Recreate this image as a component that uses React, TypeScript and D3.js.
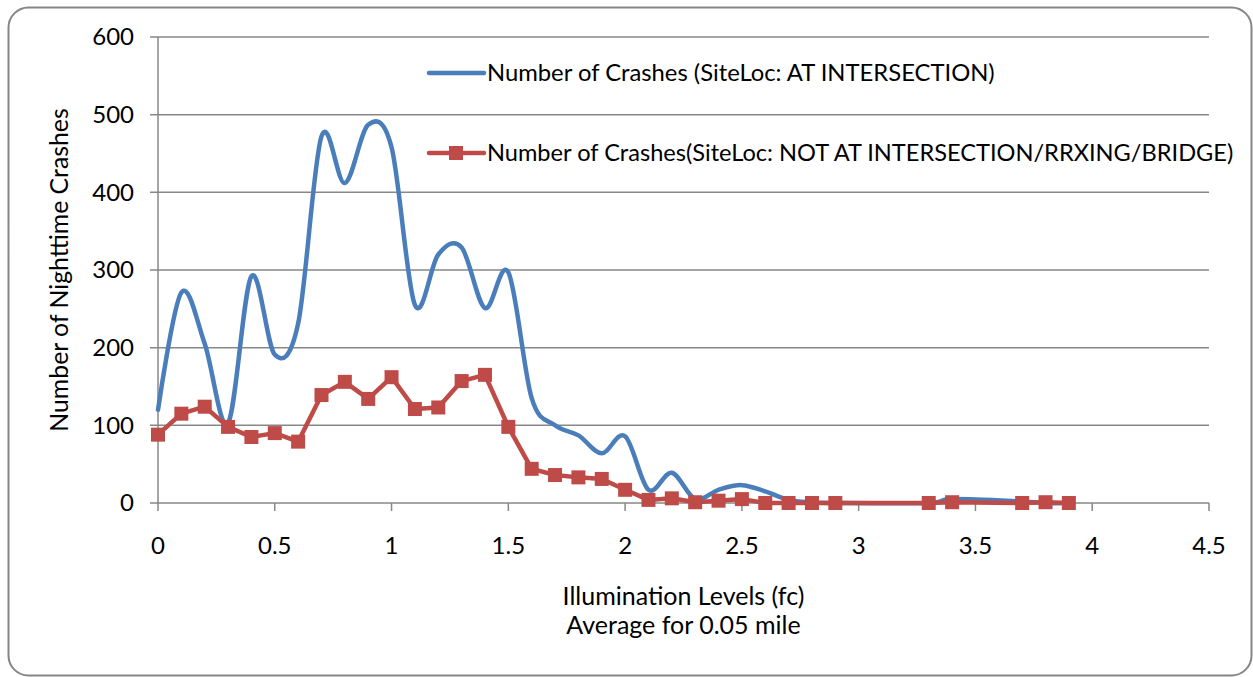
import React from "react";
import * as d3 from "d3";

const xValues = [0, 0.1, 0.2, 0.3, 0.4, 0.5, 0.6, 0.7, 0.8, 0.9, 1.0, 1.1, 1.2, 1.3, 1.4, 1.5, 1.6, 1.7, 1.8, 1.9, 2.0, 2.1, 2.2, 2.3, 2.4, 2.5, 2.6, 2.7, 2.8, 2.9, 3.3, 3.4, 3.7, 3.8, 3.9];
const atIntersection = [120, 271, 205, 103, 292, 191, 231, 472, 412, 487, 458, 255, 320, 329, 251, 297, 135, 100, 87, 64, 86, 17, 39, 5, 17, 23, 15, 4, 1, 0, 0, 5, 2, 0, 0];
const notAtIntersection = [88, 115, 124, 98, 85, 90, 79, 139, 156, 134, 162, 121, 123, 157, 165, 98, 44, 36, 33, 31, 17, 4, 6, 1, 3, 5, 0, 0, 0, 0, 0, 1, 0, 1, 0];
const xTicks = [0, 0.5, 1, 1.5, 2, 2.5, 3, 3.5, 4, 4.5];
const yTicks = [0, 100, 200, 300, 400, 500, 600];
const seriesNames = [
  "Number of Crashes (SiteLoc: AT INTERSECTION)",
  "Number of Crashes(SiteLoc: NOT AT INTERSECTION/RRXING/BRIDGE)",
];
const xTitle = ["Illumination Levels (fc)", "Average for 0.05 mile"];
const yTitle = "Number of Nighttime Crashes";

const W = 1253;
const H = 677;
const BLUE = "#4a7ebb";
const RED = "#be4b48";
const GRID = "#878787";
const FONT = "Lato, 'Open Sans', sans-serif";

export default function App() {
  const x = d3.scaleLinear().domain([0, 4.5]).range([158, 1209]);
  const y = d3.scaleLinear().domain([0, 600]).range([503, 37]);
  const blueLine = d3
    .line<number>()
    .x((_, i) => x(xValues[i]))
    .y((d) => y(d))
    .curve(d3.curveCardinal.tension(0));
  const redLine = d3
    .line<number>()
    .x((_, i) => x(xValues[i]))
    .y((d) => y(d));
  const fmt = (v: number) => String(v);
  return (
    <svg
      width={W}
      height={H}
      style={{ position: "absolute", left: 0, top: 0, display: "block" }}
      fontFamily={FONT}
    >
      <rect x={0} y={0} width={W} height={H} fill="#fff" />
      <rect x={8.5} y={7.5} width={1243} height={668} rx={20} ry={20} fill="#fff" stroke="#868686" strokeWidth={2} />
      {yTicks.map((t) => (
        <g key={"y" + t}>
          <line x1={150} x2={x(4.5)} y1={y(t)} y2={y(t)} stroke={GRID} strokeWidth={1.5} />
          <text x={134} y={y(t)} dy="0.35em" textAnchor="end" fontSize={24} fill="#000">
            {fmt(t)}
          </text>
        </g>
      ))}
      <line x1={x(0)} x2={x(0)} y1={y(600)} y2={y(0)} stroke={GRID} strokeWidth={1.5} />
      {xTicks.map((t) => (
        <g key={"x" + t}>
          <line x1={x(t)} x2={x(t)} y1={y(0)} y2={y(0) + 8} stroke={GRID} strokeWidth={1.5} />
          <text x={x(t)} y={554} textAnchor="middle" fontSize={24} fill="#000">
            {fmt(t)}
          </text>
        </g>
      ))}
      <path d={blueLine(atIntersection) || ""} fill="none" stroke={BLUE} strokeWidth={4.5} strokeLinejoin="round" strokeLinecap="round" />
      <path d={redLine(notAtIntersection) || ""} fill="none" stroke={RED} strokeWidth={4.5} strokeLinejoin="round" />
      {notAtIntersection.map((v, i) => (
        <rect key={"m" + i} x={x(xValues[i]) - 7} y={y(v) - 7} width={14} height={14} fill={RED} />
      ))}
      <line x1={429} x2={484} y1={73} y2={73} stroke={BLUE} strokeWidth={4.5} strokeLinecap="round" />
      <text x={487} y={81} fontSize={23.8} fill="#000">{seriesNames[0]}</text>
      <line x1={429} x2={484} y1={153} y2={153} stroke={RED} strokeWidth={4.5} strokeLinecap="round" />
      <rect x={449} y={146} width={14} height={14} fill={RED} />
      <text x={487} y={161} fontSize={23.6} fill="#000">{seriesNames[1]}</text>
      <text transform={`translate(68,${(y(0) + y(600)) / 2}) rotate(-90)`} textAnchor="middle" fontSize={24.8} fill="#000">
        {yTitle}
      </text>
      <text x={(x(0) + x(4.5)) / 2} y={605} textAnchor="middle" fontSize={25} fill="#000">{xTitle[0]}</text>
      <text x={(x(0) + x(4.5)) / 2} y={634} textAnchor="middle" fontSize={25} fill="#000">{xTitle[1]}</text>
    </svg>
  );
}
